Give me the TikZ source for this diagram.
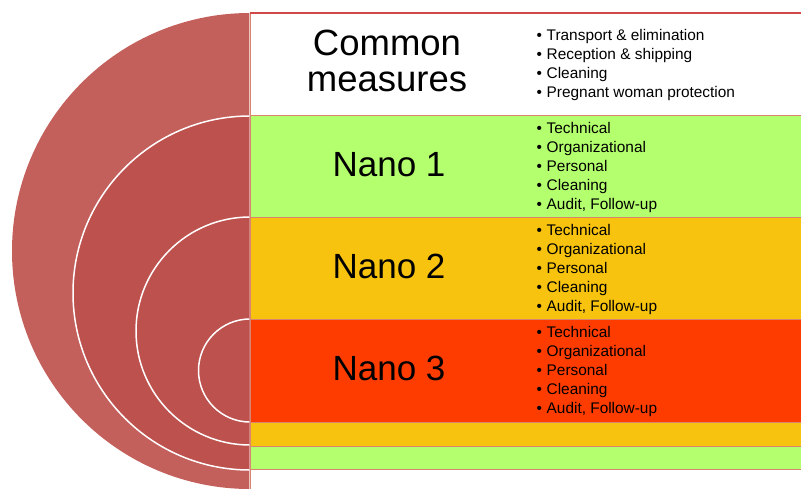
\documentclass[tikz,border=0pt]{standalone}
\usepackage{fontspec}
\setmainfont{Liberation Sans}
\definecolor{ringout}{HTML}{C4605C}
\definecolor{ringin}{HTML}{BD514E}
\definecolor{bandgreen}{HTML}{B3FF6D}
\definecolor{bandorange}{HTML}{F7C30F}
\definecolor{bandred}{HTML}{FF3C00}
\definecolor{bandline}{HTML}{D9846F}
\definecolor{topline}{HTML}{D04848}
\tikzset{
  band/.style={draw=bandline, line width=0.9pt},
  ring/.style={fill=ringin, draw=white, line width=1.5pt},
  title/.style={font=\fontsize{35}{36}\selectfont, anchor=base, inner sep=0pt},
  item/.style={font=\fontsize{15.4}{19}\selectfont, anchor=base west, inner sep=0pt},
}
\newcommand{\bul}[1]{\makebox[10pt][l]{\textbullet}#1}
\begin{document}
\begin{tikzpicture}[x=1pt,y=-1pt]
\useasboundingbox (0,0) rectangle (801,488);
% bands
\path[band, fill=white] (250,13) rectangle (806,492);
\draw[topline, line width=1.2pt] (250,13) -- (806,13);
\path[band, fill=bandgreen] (250,115) rectangle (806,469);
\path[band, fill=bandorange] (250,217) rectangle (806,446);
\path[band, fill=bandred] (250,319) rectangle (806,422);
% semicircles
\begin{scope}
\clip (0,0) rectangle (249.3,488);
\fill[ringout] (250,251) circle[radius=238];
\path[ring] (250,293) circle[radius=177];
\path[ring] (250,331) circle[radius=114];
\path[ring] (250,370.5) circle[radius=51.5];
\end{scope}
% titles
\node[title, font=\fontsize{36.5}{36}\selectfont] (cm1) at (387,55) {Common};
\node[title, font=\fontsize{36.5}{36}\selectfont] (cm2) at (387,91.5) {measures};
\node[title] (n1) at (389,176.7) {Nano 1};
\node[title] (n2) at (389,278.7) {Nano 2};
\node[title] (n3) at (389,380.7) {Nano 3};
% common list
\node[item] (c1) at (536.5,40.5) {\bul{Transport \& elimination}};
\node[item] (c2) at (536.5,59.5) {\bul{Reception \& shipping}};
\node[item] (c3) at (536.5,78.5) {\bul{Cleaning}};
\node[item] (c4) at (536.5,97.5) {\bul{Pregnant woman protection}};
% nano lists
\foreach \k/\y in {1/133,2/235,3/337}{
  \node[item] (t\k) at (536.5,\y) {\bul{Technical}};
  \node[item] (o\k) at (536.5,\y+19) {\bul{Organizational}};
  \node[item] (p\k) at (536.5,\y+38) {\bul{Personal}};
  \node[item] (l\k) at (536.5,\y+57) {\bul{Cleaning}};
  \node[item] (a\k) at (536.5,\y+76) {\bul{Audit, Follow-up}};
}
\end{tikzpicture}
\end{document}
